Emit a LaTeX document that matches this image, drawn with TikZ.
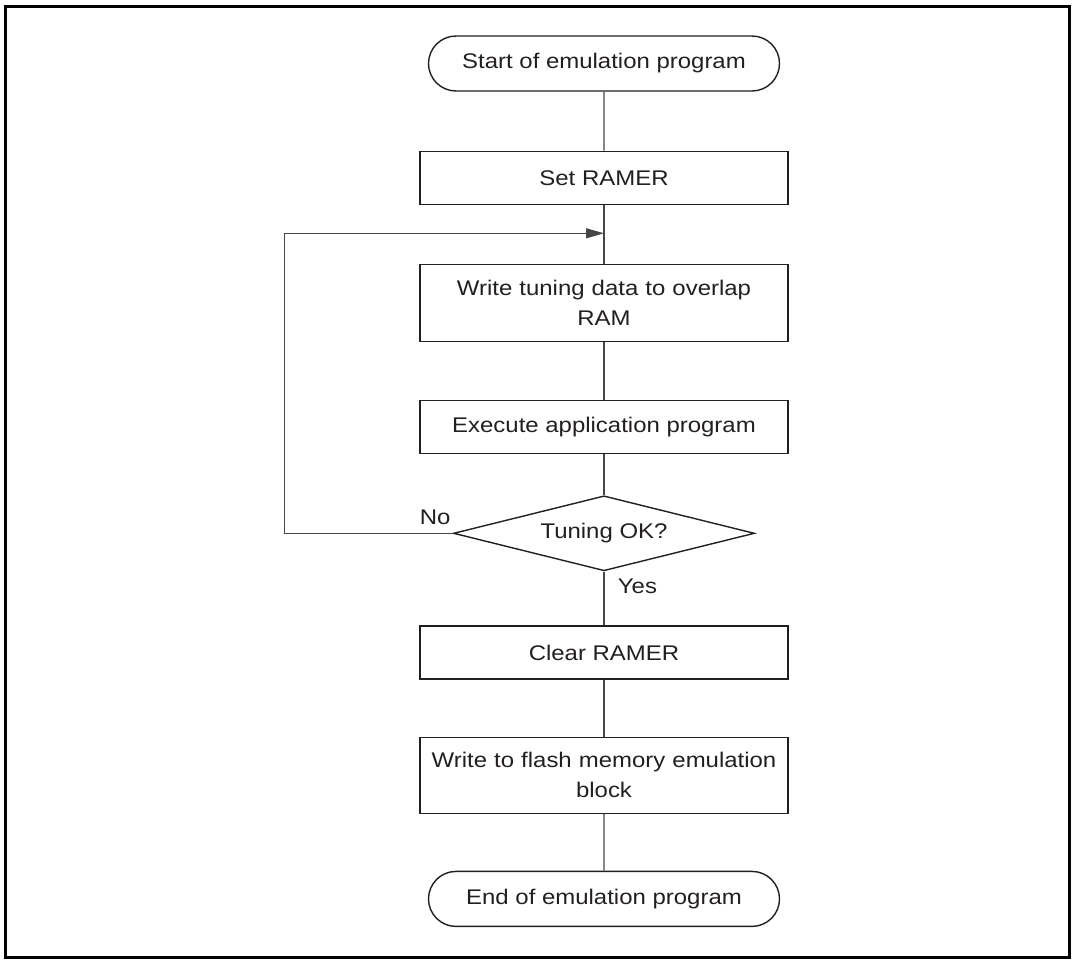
\documentclass[tikz,border=0pt]{standalone}
\usepackage{fontspec}
\setmainfont{Liberation Sans}[FakeStretch=1.13]
\usepackage{tikz}
\usetikzlibrary{arrows.meta,positioning,shapes.geometric,shapes.misc}
\definecolor{ink}{RGB}{35,31,32}
\definecolor{wire}{RGB}{70,70,70}

\begin{document}
\begin{tikzpicture}[
  node distance=28.9pt,
  every node/.style={font=\fontsize{10.6}{15}\selectfont,text=ink},
  box/.style={draw=ink,line width=0.7pt,minimum width=184pt,minimum height=26.5pt,align=center,inner xsep=4pt,inner ysep=3pt},
  tallbox/.style={box,minimum height=38.5pt,text width=176pt},
  term/.style={box,rounded rectangle,minimum height=27.5pt,minimum width=183.5pt},
  dec/.style={box,diamond,aspect=4,inner sep=0pt,minimum width=150.5pt,minimum height=37.5pt},
  line/.style={draw=wire,line width=0.55pt},
  arr/.style={line,-{Triangle[length=9pt,width=5pt]}},
  lab/.style={inner sep=0pt}]
  \useasboundingbox (0,0) rectangle (537pt,-479.5pt);
  \draw[line width=1.5pt] (2.5pt,-3pt) rectangle (534.5pt,-478.5pt);
  \node[term] (start) at (302pt,-31.75pt) {Start of emulation program};
  \node[box,below=29.4pt of start] (set) {Set RAMER};
  \node[tallbox,below=29.4pt of set] (tune) {Write tuning data to overlap\\RAM};
  \node[box,below=of tune] (exec) {Execute application program};
  \node[dec,below=20.4pt of exec] (chk) {Tuning OK?};
  \node[box,below=26.9pt of chk] (clr) {Clear RAMER};
  \node[tallbox,below=28.4pt of clr,minimum height=38pt] (flash) {Write to flash memory emulation\\block};
  \node[term,below=28.4pt of flash] (stop) {End of emulation program};
  \coordinate[below=14.2pt of set] (merge);
  \coordinate[left=84pt of chk.west] (back);
  \node[lab,anchor=base east] (no) at ([xshift=-1pt,yshift=4.5pt]chk.west) {No};
  \node[lab,anchor=base west] (yes) at ([xshift=6.75pt,yshift=-11pt]chk.south) {Yes};
  \draw[line] (start) -- (set);
  \draw[line] (set) -- (tune);
  \draw[line] (tune) -- (exec);
  \draw[line] (exec) -- (chk);
  \draw[line] (chk) -- (clr);
  \draw[line] (clr) -- (flash);
  \draw[line] (flash) -- (stop);
  \draw[arr] (chk.west) -- (back) |- (merge);
\end{tikzpicture}
\end{document}
